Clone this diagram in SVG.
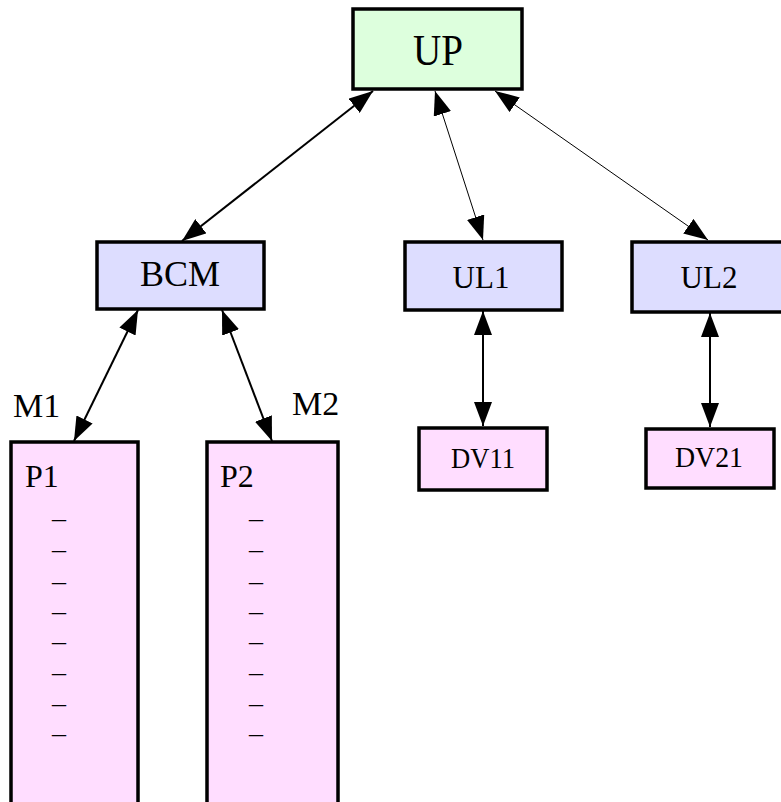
<svg xmlns="http://www.w3.org/2000/svg" width="781" height="802" viewBox="0 0 781 802">
  <style>
    .box { stroke: #000; stroke-width: 3.5; }
    .up { fill: #ddffdd; }
    .mid { fill: #ddddff; }
    .leaf { fill: #ffddff; }
    text { font-family: "Liberation Serif", "Times New Roman", serif; fill: #000; }
    .c { text-anchor: middle; }
    .edge { stroke: #000; fill: none; marker-start: url(#head); marker-end: url(#head); }
    .thick { stroke-width: 2; }
    .thin { stroke-width: 1; }
  </style>
  <defs>
    <marker id="head" markerUnits="userSpaceOnUse" markerWidth="24" markerHeight="18" refX="24" refY="9" orient="auto-start-reverse" viewBox="0 0 24 18">
      <path d="M0,0 L24,9 L0,18 z" fill="#000"/>
    </marker>
  </defs>
  <rect width="781" height="802" fill="#fff"/>

  <g id="connectors">
    <line class="edge thick" x1="373" y1="91" x2="182" y2="241"/>
    <line class="edge thin" x1="435" y1="91" x2="483" y2="240"/>
    <line class="edge thin" x1="495" y1="91" x2="708" y2="240"/>
    <line class="edge thick" x1="138" y1="310" x2="74" y2="441"/>
    <line class="edge thick" x1="222" y1="310" x2="272" y2="441"/>
    <line class="edge thick" x1="483" y1="311" x2="483" y2="426"/>
    <line class="edge thick" x1="710" y1="313" x2="710" y2="427"/>
  </g>

  <g id="UP">
    <rect class="box up" x="353" y="9" width="169" height="80"/>
    <text class="c" x="438" y="65" font-size="45" textLength="50" lengthAdjust="spacingAndGlyphs">UP</text>
  </g>
  <g id="BCM">
    <rect class="box mid" x="97" y="242" width="167" height="67"/>
    <text class="c" x="180" y="286" font-size="36">BCM</text>
  </g>
  <g id="UL1">
    <rect class="box mid" x="405" y="242" width="157" height="68"/>
    <text class="c" x="481" y="288" font-size="31">UL1</text>
  </g>
  <g id="UL2">
    <rect class="box mid" x="632" y="242" width="160" height="70"/>
    <text class="c" x="709" y="288" font-size="31">UL2</text>
  </g>
  <g id="DV11">
    <rect class="box leaf" x="419" y="428" width="128" height="62"/>
    <text class="c" x="483" y="468" font-size="29" textLength="64" lengthAdjust="spacingAndGlyphs">DV11</text>
  </g>
  <g id="DV21">
    <rect class="box leaf" x="646" y="429" width="128" height="59"/>
    <text class="c" x="709" y="467" font-size="29" textLength="68" lengthAdjust="spacingAndGlyphs">DV21</text>
  </g>

  <g id="P1">
    <rect class="box leaf" x="11" y="442" width="127" height="380"/>
    <text x="25" y="487" font-size="32">P1</text>
    <g class="c" font-size="28">
      <text x="59" y="527">–</text>
      <text x="59" y="558">–</text>
      <text x="59" y="590">–</text>
      <text x="59" y="620">–</text>
      <text x="59" y="650">–</text>
      <text x="59" y="681">–</text>
      <text x="59" y="712">–</text>
      <text x="59" y="742">–</text>
    </g>
  </g>
  <g id="P2">
    <rect class="box leaf" x="207" y="442" width="131" height="380"/>
    <text x="220" y="487" font-size="32">P2</text>
    <g class="c" font-size="28">
      <text x="256" y="527">–</text>
      <text x="256" y="558">–</text>
      <text x="256" y="590">–</text>
      <text x="256" y="620">–</text>
      <text x="256" y="650">–</text>
      <text x="256" y="681">–</text>
      <text x="256" y="712">–</text>
      <text x="256" y="742">–</text>
    </g>
  </g>

  <g id="labels">
    <text x="13" y="417" font-size="34">M1</text>
    <text x="292" y="415" font-size="34">M2</text>
  </g>
</svg>
